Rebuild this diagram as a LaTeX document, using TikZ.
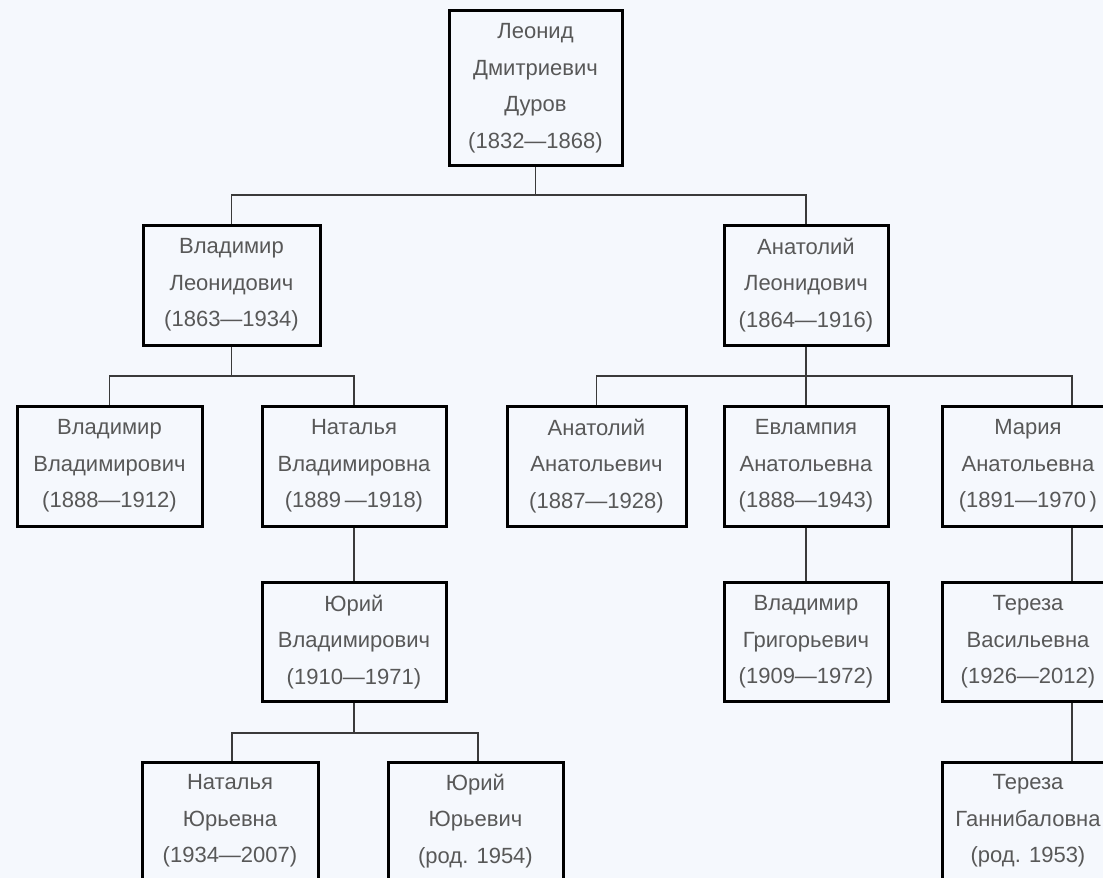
\documentclass[tikz,border=0pt]{standalone}
\usepackage{fontspec}
\setmainfont{Liberation Sans}
\definecolor{bg}{HTML}{F5F8FD}
\definecolor{txt}{HTML}{585858}
\definecolor{lnk}{HTML}{3A3A3A}
\begin{document}
\begin{tikzpicture}[x=1pt,y=-1pt,
  person/.style={draw=black, line width=3pt, fill=bg, align=center, text=txt,
    font=\fontsize{22}{36.5}\selectfont, inner sep=0pt},
  link/.style={draw=lnk, line width=1.4pt}]
\fill[bg] (0,0) rectangle (1103,878);
\useasboundingbox (0,0) rectangle (1103,878);
\begin{scope}
\clip (0,0) rectangle (1103,878);
% generation 0
\node[person, minimum width=173pt, minimum height=155pt] (leo) at (535.5,88)
  {Леонид\\Дмитриевич\\Дуров\\(1832—1868)};
% generation 1
\node[person, minimum width=177pt, minimum height=120pt] (vl) at (231.5,285)
  {Владимир\\Леонидович\\(1863—1934)};
\node[person, minimum width=164pt, minimum height=120pt] (al) at (806,285)
  {Анатолий\\Леонидович\\(1864—1916)};
% generation 2
\node[person, minimum width=185pt, minimum height=120pt] (vv) at (109.5,466)
  {Владимир\\Владимирович\\(1888—1912)};
\node[person, minimum width=184pt, minimum height=120pt] (nv) at (354,466)
  {Наталья\\Владимировна\\(1889\,—1918)};
\node[person, minimum width=179pt, minimum height=120pt] (aa) at (596.5,466)
  {Анатолий\\Анатольевич\\(1887—1928)};
\node[person, minimum width=164pt, minimum height=120pt] (ea) at (806,466)
  {Евлампия\\Анатольевна\\(1888—1943)};
\node[person, minimum width=172pt, minimum height=120pt] (ma) at (1028,466)
  {Мария\\Анатольевна\\(1891—1970\,)};
% generation 3
\node[person, minimum width=184pt, minimum height=119pt] (yv) at (354,642)
  {Юрий\\Владимирович\\(1910—1971)};
\node[person, minimum width=164pt, minimum height=119pt] (vg) at (806,642)
  {Владимир\\Григорьевич\\(1909—1972)};
\node[person, minimum width=172pt, minimum height=119pt] (tv) at (1028,642)
  {Тереза\\Васильевна\\(1926—2012)};
% generation 4
\node[person, minimum width=176pt, minimum height=118pt] (ny) at (230,821)
  {Наталья\\Юрьевна\\(1934—2007)};
\node[person, minimum width=175pt, minimum height=118pt] (yy) at (475.5,821)
  {Юрий\\Юрьевич\\(род. 1954)};
\node[person, minimum width=172pt, minimum height=118pt] (tg) at (1028,821)
  {Тереза\\Ганнибаловна\\(род. 1953)};
\end{scope}
% junctions
\coordinate (j0) at (535.5,195);
\coordinate (j1) at (231.5,376);
\coordinate (j2) at (806,376);
\coordinate (j3) at (354,733);
% connectors
\draw[link] (leo.south) -- (j0);
\draw[link] (vl.north) |- (j0) -| (al.north);
\draw[link] (vl.south) -- (j1);
\draw[link] (vv.north) |- (j1) -| (nv.north);
\draw[link] (al.south) -- (j2);
\draw[link] (aa.north) |- (j2) -| ([xshift=44pt]ma.north);
\draw[link] (ea.north) -- (j2);
\draw[link] (nv.south) -- (yv.north);
\draw[link] (yv.south) -- (j3);
\draw[link] ([xshift=2pt]ny.north) |- (j3) -| ([xshift=2.5pt]yy.north);
\draw[link] (ea.south) -- (vg.north);
\draw[link] ([xshift=44pt]ma.south) -- ([xshift=44pt]tv.north);
\draw[link] ([xshift=44pt]tv.south) -- ([xshift=44pt]tg.north);
\end{tikzpicture}
\end{document}
